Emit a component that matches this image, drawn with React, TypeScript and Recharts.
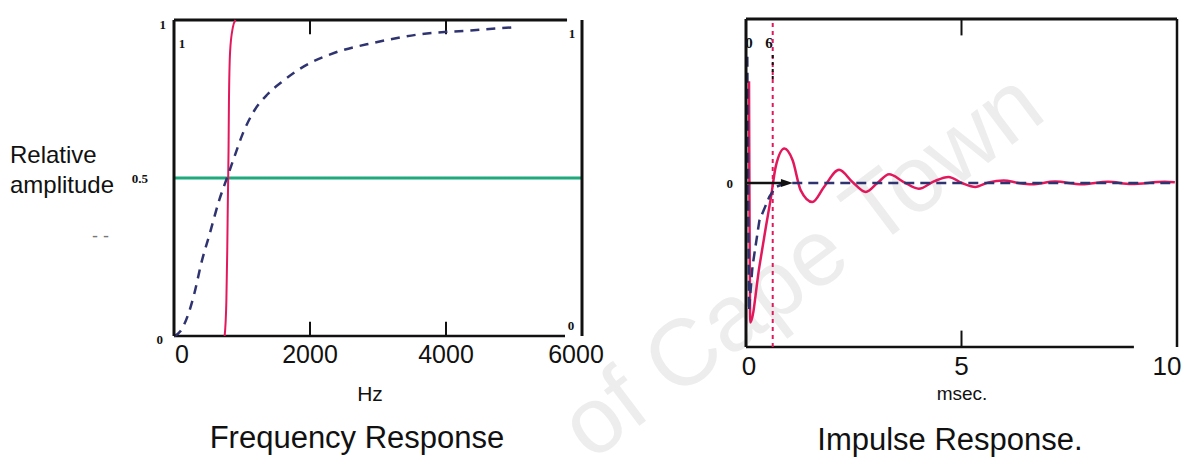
import React from 'react';
import { LineChart, Line, XAxis, YAxis, ReferenceLine } from 'recharts';

// ---- Frequency response (left) ----
const freqTicks = [0, 2000, 4000, 6000];
const freqInnerTicks = [2000, 4000];
const ampTicks = [0, 0.5, 1];

// gaussian-ish filter, dashed blue
const gaussHz = [0, 97, 210, 296, 409, 523, 665, 779, 893, 1007, 1177, 1376, 1604, 1917, 2372, 2940, 3623, 4362, 5045];
const gaussAmp = [0, 0.016, 0.069, 0.132, 0.237, 0.322, 0.43, 0.5, 0.57, 0.638, 0.712, 0.765, 0.807, 0.854, 0.897, 0.928, 0.955, 0.967, 0.978];

// brick-wall filter, solid red
const brickHz = [745, 770, 783, 792, 802, 808, 825, 864, 904];
const brickAmp = [0, 0.11, 0.27, 0.43, 0.585, 0.74, 0.9, 0.975, 1];

// half-amplitude line
const halfHz = [0, 6000];
const halfAmp = [0.5, 0.5];

// ---- Impulse response (right) ----
const timeTicks = [0, 5, 10];
const timeInnerTicks = [5];
const impTicks = [0];

const redT = [0.07, 0.1, 0.31, 0.46, 0.58, 0.69, 0.89, 1.08, 1.27, 1.54, 1.81, 2.16, 2.47, 2.78, 3.05, 3.32, 3.66, 4.01, 4.36, 4.7, 5.01, 5.32, 5.63, 5.98, 6.32, 6.63, 7.17, 7.79, 8.4, 8.94, 9.71, 9.95];
const redV = [0.62, -0.85, -0.51, -0.27, -0.086, 0.1, 0.21, 0.14, -0.045, -0.116, -0.024, 0.081, 0.006, -0.055, 0, 0.053, 0.006, -0.035, 0.01, 0.037, 0, -0.024, 0.004, 0.016, 0, -0.008, 0.009, -0.008, 0.007, -0.006, 0.007, 0.004];

const blueT = [0.03, 0.07, 0.15, 0.31, 0.54, 0.69, 0.93, 10];
const blueV = [0.77, -0.78, -0.51, -0.23, -0.085, -0.024, 0, 0];

const arrowT = [0, 0.95];
const arrowV = [0, 0];
const markerT = 0.62;

const zip = (xs: number[], ys: number[]) => xs.map((x, i) => ({ x, y: ys[i] }));

const RED = '#e3185c';
const BLUE = '#2f3470';
const GREEN = '#1fa97c';
const INK = '#111';
const SANS = '"Liberation Sans", Arial, sans-serif';
const SERIF = '"Liberation Serif", "Times New Roman", serif';

const xTick = (size: number, shifts: Record<number, number>) => (props: any) => {
  const { x, y, payload } = props;
  return (
    <text x={x + (shifts[payload.value] ?? 0)} y={y} dy="0.71em" textAnchor="middle" fontSize={size} fontFamily={SANS} fill={INK}>
      {payload.value}
    </text>
  );
};

const yTick = (shifts: Record<number, [number, number]>) => (props: any) => {
  const { x, y, payload } = props;
  const [dx, dy] = shifts[payload.value] ?? [0, 0];
  return (
    <text x={x + dx} y={y + dy} dy="0.35em" textAnchor="end" fontSize={13} fontWeight="bold" fontFamily={SERIF} fill={INK}>
      {payload.value}
    </text>
  );
};

const arrowDot = (props: any) => {
  const { cx, cy, index } = props;
  if (index !== arrowT.length - 1) return <g key={index} />;
  return <path key={index} d={`M${cx + 6},${cy} L${cx - 6},${cy - 4} L${cx - 6},${cy + 4} Z`} fill={INK} />;
};

// inward tick marks on the top and bottom frame lines
const innerTicks = (ticks: number[], top: number, bottom: number, len: number) =>
  ticks.flatMap((t) => [
    <ReferenceLine key={`t${t}`} xAxisId="x" yAxisId="y" segment={[{ x: t, y: top }, { x: t, y: top - len }]} stroke={INK} strokeWidth={2} />,
    <ReferenceLine key={`b${t}`} xAxisId="x" yAxisId="y" segment={[{ x: t, y: bottom }, { x: t, y: bottom + len }]} stroke={INK} strokeWidth={2} />,
  ]);

function FrequencyChart() {
  return (
    <LineChart width={520} height={400} margin={{ top: 20, right: 38, bottom: 24, left: 34 }}>
      <XAxis xAxisId="x" type="number" dataKey="x" domain={[0, 6000]} ticks={freqTicks} tickLine={false} axisLine={false}
        tickMargin={3} tick={xTick(25, { 0: 8, 6000: -6 })} height={40} allowDataOverflow />
      <YAxis yAxisId="y" type="number" domain={[0, 1]} ticks={ampTicks} width={40} tickLine={false}
        axisLine={{ stroke: INK, strokeWidth: 3 }} tick={yTick({ 1: [0, 4], 0.5: [-18, 0], 0: [-3, 3] })} />
      <YAxis yAxisId="yr" orientation="right" type="number" domain={[0, 1]} mirror tick={false} tickLine={false}
        axisLine={{ stroke: INK, strokeWidth: 3 }} />
      <ReferenceLine xAxisId="x" yAxisId="y" segment={[{ x: 0, y: 1 }, { x: 5780, y: 1 }]} stroke={INK} strokeWidth={3} />
      <ReferenceLine xAxisId="x" yAxisId="y" segment={[{ x: 0, y: 0 }, { x: 5750, y: 0 }]} stroke={INK} strokeWidth={2.5} />
      {innerTicks(freqInnerTicks, 1, 0, 0.045)}
      <Line xAxisId="x" yAxisId="y" data={zip(halfHz, halfAmp)} dataKey="y" stroke={GREEN} strokeWidth={3} dot={false} isAnimationActive={false} />
      <Line xAxisId="x" yAxisId="y" data={zip(brickHz, brickAmp)} dataKey="y" type="monotone" stroke={RED} strokeWidth={2} dot={false} isAnimationActive={false} />
      <Line xAxisId="x" yAxisId="y" data={zip(gaussHz, gaussAmp)} dataKey="y" type="monotone" stroke={BLUE} strokeWidth={2.5}
        strokeDasharray="9 7" dot={false} isAnimationActive={false} />
    </LineChart>
  );
}

function ImpulseChart() {
  return (
    <LineChart width={496} height={400} margin={{ top: 19, right: 9, bottom: 13, left: 26 }}>
      <XAxis xAxisId="x" type="number" dataKey="x" domain={[0, 10]} ticks={timeTicks} tickLine={false} axisLine={false}
        tickMargin={4} tick={xTick(26, { 0: 3, 10: -10 })} height={40} allowDataOverflow />
      <YAxis yAxisId="y" type="number" domain={[-1, 1]} ticks={impTicks} width={30} tickLine={false}
        axisLine={{ stroke: INK, strokeWidth: 3 }} tick={yTick({ 0: [-5, 0] })} />
      <YAxis yAxisId="yr" orientation="right" type="number" domain={[-1, 1]} mirror tick={false} tickLine={false}
        axisLine={{ stroke: INK, strokeWidth: 2.5 }} />
      <ReferenceLine xAxisId="x" yAxisId="y" segment={[{ x: 0, y: 1 }, { x: 10, y: 1 }]} stroke={INK} strokeWidth={3} />
      <ReferenceLine xAxisId="x" yAxisId="y" segment={[{ x: 0, y: -1 }, { x: 9, y: -1 }]} stroke={INK} strokeWidth={2.5} />
      {innerTicks(timeInnerTicks, 1, -1, 0.1)}
      <ReferenceLine xAxisId="x" yAxisId="y" x={markerT} stroke={RED} strokeWidth={2} strokeDasharray="4 4" />
      <ReferenceLine xAxisId="x" yAxisId="y" segment={[{ x: markerT, y: 0.78 }, { x: markerT, y: 0.62 }]} stroke={INK} strokeWidth={2} strokeDasharray="3 4" />
      <Line xAxisId="x" yAxisId="y" data={zip(redT, redV)} dataKey="y" type="monotone" stroke={RED} strokeWidth={2.5} dot={false} isAnimationActive={false} />
      <Line xAxisId="x" yAxisId="y" data={zip(blueT, blueV)} dataKey="y" type="linear" stroke={BLUE} strokeWidth={2.5}
        strokeDasharray="10 6" dot={false} isAnimationActive={false} />
      <Line xAxisId="x" yAxisId="y" data={zip(arrowT, arrowV)} dataKey="y" stroke={INK} strokeWidth={2.5} dot={arrowDot} isAnimationActive={false} />
    </LineChart>
  );
}

export default function App() {
  const text = (x: number, y: number, s: string, size: number, anchor: string = 'start', extra: any = {}) => (
    <text x={x} y={y} fontSize={size} fontFamily={SANS} fill={INK} textAnchor={anchor as any} {...extra}>{s}</text>
  );
  const small = (x: number, y: number, s: string, size = 13) => (
    <text x={x} y={y} fontSize={size} fontWeight="bold" fontFamily={SERIF} fill={INK} textAnchor="middle">{s}</text>
  );
  return (
    <div style={{ position: 'fixed', left: 0, top: 0, width: 1186, height: 463, background: '#fff', overflow: 'hidden' }}>
      <svg width={1186} height={463} style={{ position: 'absolute', left: 0, top: 0 }}>
        <text x={805} y={270} fontSize={94} fontFamily={SANS} fill="#ededed" textAnchor="middle" dominantBaseline="middle"
          transform="rotate(-37 805 270)">of Cape Town</text>
        {text(10, 163, 'Relative', 24)}
        {text(10, 193, 'amplitude', 24)}
        {text(92, 242, '- -', 18, 'start', { fill: '#777' })}
        {text(370, 401, 'Hz', 21, 'middle')}
        {text(357, 448, 'Frequency Response', 31, 'middle')}
        {text(962, 400, 'msec.', 19, 'middle')}
        {text(950, 450, 'Impulse Response.', 31, 'middle')}
        {small(182, 48, '1')}
        {small(572, 38, '1')}
        {small(571, 330, '0')}
        {small(749, 48, '0', 15)}
        {small(769, 48, '6', 15)}
      </svg>
      <div style={{ position: 'absolute', left: 100, top: 0 }}>
        <FrequencyChart />
      </div>
      <div style={{ position: 'absolute', left: 690, top: 0 }}>
        <ImpulseChart />
      </div>
    </div>
  );
}
